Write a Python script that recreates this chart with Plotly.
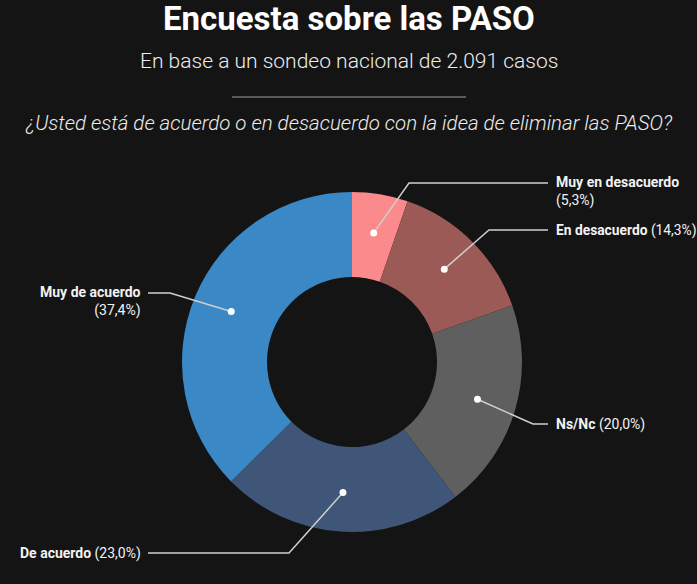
import math
import plotly.graph_objects as go

W, H = 697, 584

categories = ["Muy en desacuerdo", "En desacuerdo", "Ns/Nc", "De acuerdo", "Muy de acuerdo"]
values = [5.3, 14.3, 20.0, 23.0, 37.4]
value_labels = ["5,3%", "14,3%", "20,0%", "23,0%", "37,4%"]
colors = ["#FA8A8C", "#9C5A57", "#5F5F5F", "#3F5678", "#3A88C6"]

BG = "#141414"
TXT = "#F2F2F2"

# pie geometry (pixels, y from top)
CX, CY, R = 352, 362, 170
HOLE = 0.5
dom_x = [(CX - R) / W, (CX + R) / W]
dom_y = [(H - CY - R) / H, (H - CY + R) / H]

fig = go.Figure()
fig.add_trace(go.Pie(
    labels=categories, values=values, sort=False, direction="clockwise",
    rotation=0, hole=HOLE, textinfo="none", hoverinfo="label+percent",
    marker=dict(colors=colors, line=dict(width=0)),
    domain=dict(x=dom_x, y=dom_y), showlegend=False,
))

def px(x):
    return x / W

def py(y):
    return 1 - y / H

# dot positions derived from slice mid-angles
total = sum(values)
dots = []
acc = 0
rr = R * 0.77
for v in values:
    mid = (acc + v / 2) / total * 2 * math.pi
    acc += v
    dots.append((CX + rr * math.sin(mid), CY - rr * math.cos(mid)))

# label layout: (elbow x, line y, line end x, text x, anchor)
layout_spec = [
    (409, 183, 548, 554, "left"),
    (489, 230, 548, 554, "left"),
    (533, 424, 548, 554, "left"),
    (289, 553, 148, 143, "right"),
    (170, 293, 148, 143, "right"),
]
two_line = {0, 4}

shapes = []
annotations = []
for i, (cat, lab) in enumerate(zip(categories, value_labels)):
    ex, ly, endx, tx, anc = layout_spec[i]
    dx, dy = dots[i]
    path = f"M {px(dx)} {py(dy)} L {px(ex)} {py(ly)} L {px(endx)} {py(ly)}"
    shapes.append(dict(type="path", xref="paper", yref="paper", path=path,
                       line=dict(color="#CFCFCF", width=1.5), layer="above"))
    shapes.append(dict(type="circle", xref="paper", yref="paper",
                       x0=px(dx - 3.5), x1=px(dx + 3.5), y0=py(dy + 3.5), y1=py(dy - 3.5),
                       fillcolor="#FFFFFF", line=dict(width=0), layer="above"))
    if i in two_line:
        text = f"<b>{cat}</b><br>({lab})"
        yanchor = "top"
        yy = py(ly - 11)
    else:
        text = f"<b>{cat}</b> ({lab})"
        yanchor = "middle"
        yy = py(ly)
    annotations.append(dict(text=text, x=px(tx), y=yy, xref="paper", yref="paper",
                            xanchor=anc, yanchor=yanchor, align=anc, showarrow=False,
                            font=dict(family="Roboto", size=14 if i != 1 else 13.8, color=TXT)))

# header texts
annotations.append(dict(text="<b>Encuesta sobre las PASO</b>", x=0.5, y=py(19),
                        xref="paper", yref="paper", xanchor="center", yanchor="middle",
                        showarrow=False,
                        font=dict(family="Roboto", size=33, color="#FFFFFF", weight=900)))
annotations.append(dict(text="En base a un sondeo nacional de 2.091 casos", x=0.5, y=py(61),
                        xref="paper", yref="paper", xanchor="center", yanchor="middle",
                        showarrow=False,
                        font=dict(family="Roboto", size=21, color="#EDEDED", weight=300)))
annotations.append(dict(text="<i>¿Usted está de acuerdo o en desacuerdo con la idea de eliminar las PASO?</i>",
                        x=0.5, y=py(123), xref="paper", yref="paper", xanchor="center",
                        yanchor="middle", showarrow=False,
                        font=dict(family="Roboto", size=20.5, color="#EDEDED", weight=300)))
shapes.append(dict(type="line", xref="paper", yref="paper", x0=px(232), x1=px(466),
                   y0=py(97), y1=py(97), line=dict(color="#5A5A5A", width=2)))

fig.update_layout(
    width=W, height=H, margin=dict(l=0, r=0, t=0, b=0),
    paper_bgcolor=BG, plot_bgcolor=BG,
    shapes=shapes, annotations=annotations,
)

fig.write_html("out.html", config={"displayModeBar": False},
               post_script="document.body.style.margin='0';document.body.style.overflow='hidden';document.body.style.background='#141414';")
